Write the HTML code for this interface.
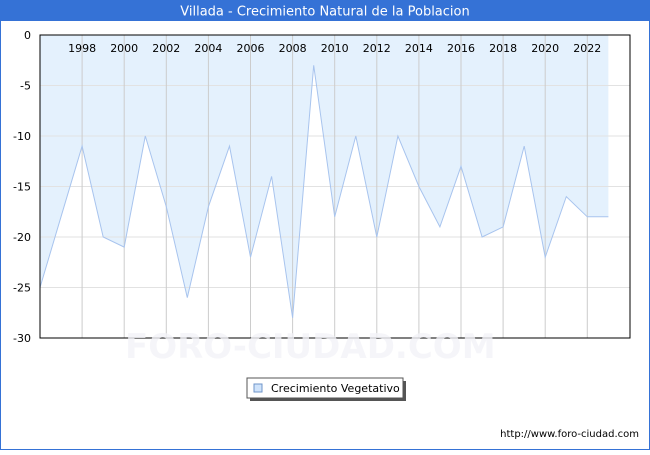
<!DOCTYPE html>
<html><head><style>
body{margin:0;width:650px;height:450px;overflow:hidden;font-family:"Liberation Sans","DejaVu Sans",sans-serif;}
</style></head><body>
<svg width="650" height="450" xmlns="http://www.w3.org/2000/svg" font-family="DejaVu Sans, Liberation Sans, sans-serif">
<rect x="0" y="0" width="650" height="450" fill="#fff" stroke="#3572d6" stroke-width="2"/>
<rect x="0" y="0" width="650" height="21" fill="#3572d6"/>
<text x="325" y="15.5" fill="#fff" font-size="13" text-anchor="middle">Villada - Crecimiento Natural de la Poblacion</text>
<g id="plot"></g>
<text x="125" y="358" font-size="34" fill="#f3f3f8" font-weight="bold" opacity="0.8">FORO-CIUDAD.COM</text>
<rect x="250" y="381" width="156" height="20" fill="#555"/>
<rect x="247" y="378" width="156" height="20" fill="#fff" stroke="#555"/>
<rect x="254" y="384" width="8" height="8" fill="#cfe3fb" stroke="#6f95c9"/>
<text x="271" y="392" font-size="11">Crecimiento Vegetativo</text>
<text x="639" y="437" font-size="10" text-anchor="end">http://www.foro-ciudad.com</text>
</svg>
<script>
const d=[-25,-18,-11,-20,-21,-10,-17,-26,-17,-11,-22,-14,-28,-3,-18,-10,-20,-10,-15,-19,-13,-20,-19,-11,-22,-16,-18,-18];
const X=i=>40+i*21.05, Y=v=>35-v*10.1;
let s='';
let pts=d.map((v,i)=>X(i).toFixed(1)+','+Y(v).toFixed(1)).join(' ');
let rev=d.map((v,i)=>X(i).toFixed(1)+','+Y(v).toFixed(1)).reverse().join(' ');
s+=`<rect x="40" y="35" width="590" height="303" fill="#fff"/>`;
s+=`<polygon points="40,35 ${X(27)},35 ${rev}" fill="#e4f1fd"/>`;
for(let k=1;k<6;k++){const y=Y(-5*k);s+=`<line x1="40" x2="630" y1="${y}" y2="${y}" stroke="#e2e2e2"/>`;}
for(let yr=1998;yr<=2022;yr+=2){const x=X(yr-1996);s+=`<line x1="${x}" x2="${x}" y1="35" y2="338" stroke="#cccccc"/><text x="${x}" y="52" font-size="11" text-anchor="middle">${yr}</text>`;}
s+=`<polyline points="${pts}" fill="none" stroke="#a8c4ee" stroke-width="1"/>`;
s+=`<rect x="40" y="35" width="590" height="303" fill="none" stroke="#000"/>`;
for(let k=0;k<=6;k++){s+=`<text x="31" y="${Y(-5*k)+4}" font-size="11" text-anchor="end">${k?-5*k:0}</text>`;}
document.getElementById('plot').innerHTML=s;
</script>
</body></html>
